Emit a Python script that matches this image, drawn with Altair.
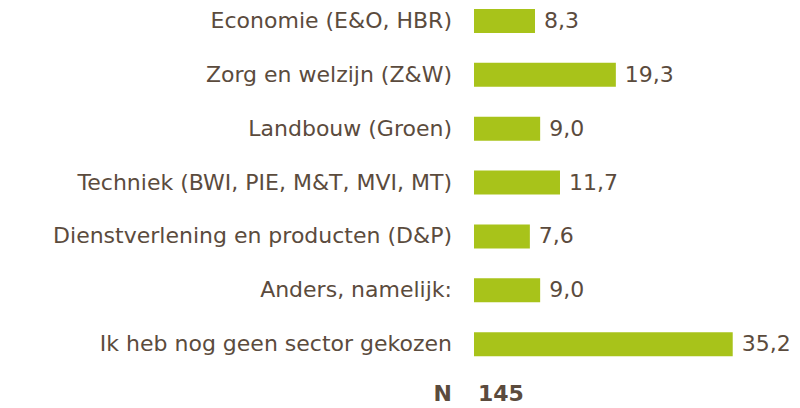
import altair as alt
import pandas as pd

categories = [
    "Economie (E&O, HBR)",
    "Zorg en welzijn (Z&W)",
    "Landbouw (Groen)",
    "Techniek (BWI, PIE, M&T, MVI, MT)",
    "Dienstverlening en producten (D&P)",
    "Anders, namelijk:",
    "Ik heb nog geen sector gekozen",
]
values = [8.3, 19.3, 9.0, 11.7, 7.6, 9.0, 35.2]
n_label = "N"
n_value = 145

df = pd.DataFrame({
    "cat": categories,
    "val": values,
    "lbl": [f"{v:.1f}".replace(".", ",") for v in values],
})
dfn = pd.DataFrame({"cat": [n_label], "val": [0], "lbl": [str(n_value)]})

TXT = "#5b4b3d"
BAR = "#a8c31a"
FONT = "DejaVu Sans"
FS = 22

y = alt.Y("cat:N", sort=categories + [n_label],
          scale=alt.Scale(domain=categories + [n_label], paddingInner=0.556, paddingOuter=0),
          axis=None)
x = alt.X("val:Q", scale=alt.Scale(domain=[0, 40]), axis=None)

base = alt.Chart(df)
bars = base.mark_bar(color=BAR, cornerRadius=0).encode(x=x, y=y)
vals = base.mark_text(align="left", baseline="middle", dx=9, font=FONT, fontSize=FS, color=TXT).encode(
    x=x, y=y, text="lbl:N")
labels = base.mark_text(align="right", baseline="middle", dx=-22, font=FONT, fontSize=FS, color=TXT).encode(
    x=alt.value(0), y=y, text="cat:N")

nbase = alt.Chart(dfn)
nlab = nbase.mark_text(align="right", baseline="middle", dx=-22, dy=-4, font=FONT, fontSize=FS, fontWeight="bold", color=TXT).encode(
    x=alt.value(0), y=y, text="cat:N")
nval = nbase.mark_text(align="left", baseline="middle", dx=4, dy=-4, font=FONT, fontSize=FS, fontWeight="bold", color=TXT).encode(
    x=alt.value(0), y=y, text="lbl:N")

chart = alt.layer(bars, vals, labels, nlab, nval).properties(
    width=294, height=401,
    autosize=alt.AutoSizeParams(type="none"),
    padding={"left": 466, "top": 1, "right": 24, "bottom": 0},
    background="white",
).configure_view(stroke=None)

chart.save("out.html", embed_options={"renderer": "svg", "actions": False})
